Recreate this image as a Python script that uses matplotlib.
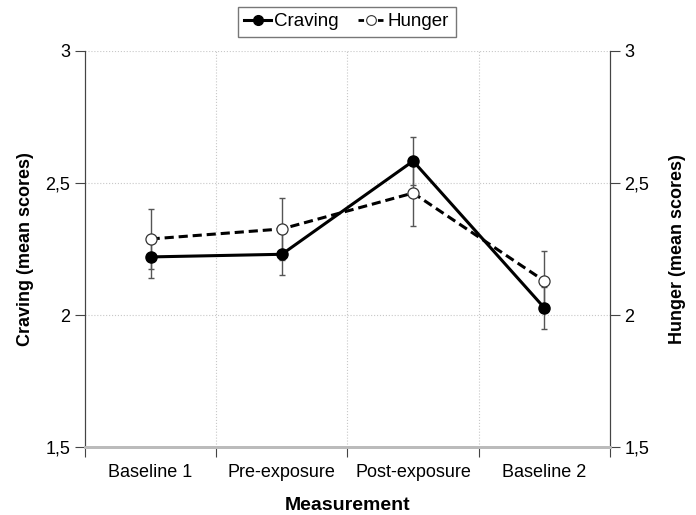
import matplotlib.pyplot as plt
from matplotlib.lines import Line2D

plt.rcParams['font.family'] = ['Liberation Sans', 'DejaVu Sans']

categories = ["Baseline 1", "Pre-exposure", "Post-exposure", "Baseline 2"]
craving = [2.22, 2.23, 2.583, 2.027]
craving_err = [0.08, 0.08, 0.09, 0.08]
hunger = [2.288, 2.326, 2.462, 2.129]
hunger_err = [0.115, 0.117, 0.125, 0.114]
yticks = [1.5, 2, 2.5, 3]
ytick_labels = ["1,5", "2", "2,5", "3"]

fig = plt.figure(figsize=(6.96, 5.15), dpi=100)
ax = fig.add_axes([0.1221, 0.132, 0.7543, 0.769])
ax2 = ax.twinx()

x = list(range(len(categories)))

# grid lines
for b in [0.5, 1.5, 2.5]:
    ax.axvline(b, color='#c8c8c8', lw=0.8, ls=':', zorder=0)
for yv in [2, 2.5, 3]:
    ax.axhline(yv, color='#c8c8c8', lw=0.8, ls=':', zorder=0)

ax.errorbar(x, hunger, yerr=hunger_err, fmt='none', ecolor='#555555',
            elinewidth=1.0, capsize=2.5, capthick=1.0, zorder=2)
ax.errorbar(x, craving, yerr=craving_err, fmt='none', ecolor='#555555',
            elinewidth=1.0, capsize=2.5, capthick=1.0, zorder=2)
ax.plot(x, hunger, color='black', lw=2.2, ls=(0, (3, 1.6)), marker='o',
        markersize=8, markerfacecolor='white', markeredgecolor='#333333',
        markeredgewidth=0.9, zorder=3)
ax.plot(x, craving, color='black', lw=2.2, marker='o', markersize=8,
        markerfacecolor='black', markeredgecolor='black', zorder=4)

ax.set_xlim(-0.5, 3.5)
ax.set_ylim(1.5, 3)
ax2.set_ylim(1.5, 3)

ax.set_xticks([-0.5, 0.5, 1.5, 2.5, 3.5])
ax.set_xticklabels([])
ax.set_xticks(x, minor=True)
ax.set_xticklabels(categories, minor=True, fontsize=13)
ax.tick_params(axis='x', which='minor', length=0, pad=12)
ax.tick_params(axis='x', which='major', length=7, direction='out', color='#444444')

ax.set_yticks(yticks)
ax.set_yticklabels(ytick_labels, fontsize=13)
ax2.set_yticks(yticks)
ax2.set_yticklabels(ytick_labels, fontsize=13)
ax.tick_params(axis='y', length=7, color='#444444')
ax2.tick_params(axis='y', length=7, color='#444444')

for a in (ax, ax2):
    a.spines['top'].set_visible(False)
    a.spines['left'].set_color('#444444')
    a.spines['right'].set_color('#444444')
    a.spines['bottom'].set_color('#bbbbbb')
    a.spines['bottom'].set_linewidth(2)

ax.set_xlabel("Measurement", fontsize=14, fontweight='bold', labelpad=12)
ax.set_ylabel("Craving (mean scores)", fontsize=13, fontweight='bold', labelpad=8)
ax2.set_ylabel("Hunger (mean scores)", fontsize=13, fontweight='bold', labelpad=14)

handles = [
    Line2D([0], [0], color='black', lw=2.2, marker='o', markersize=7,
           markerfacecolor='black'),
    Line2D([0], [0], color='black', lw=2.0, ls=(0, (2, 1.5)), marker='o',
           markersize=7, markerfacecolor='white', markeredgecolor='#333333',
           markeredgewidth=0.8),
]
leg = fig.legend(handles, ["Craving", "Hunger"], loc='center',
                 bbox_to_anchor=(0.498, 0.958), ncol=2, fontsize=13.5,
                 frameon=True, fancybox=False, edgecolor='#555555',
                 handlelength=1.45, handletextpad=0.15, columnspacing=1.0,
                 borderpad=0.35, borderaxespad=0)
leg.get_frame().set_linewidth(1.0)

fig.savefig("out.png", dpi=100)
